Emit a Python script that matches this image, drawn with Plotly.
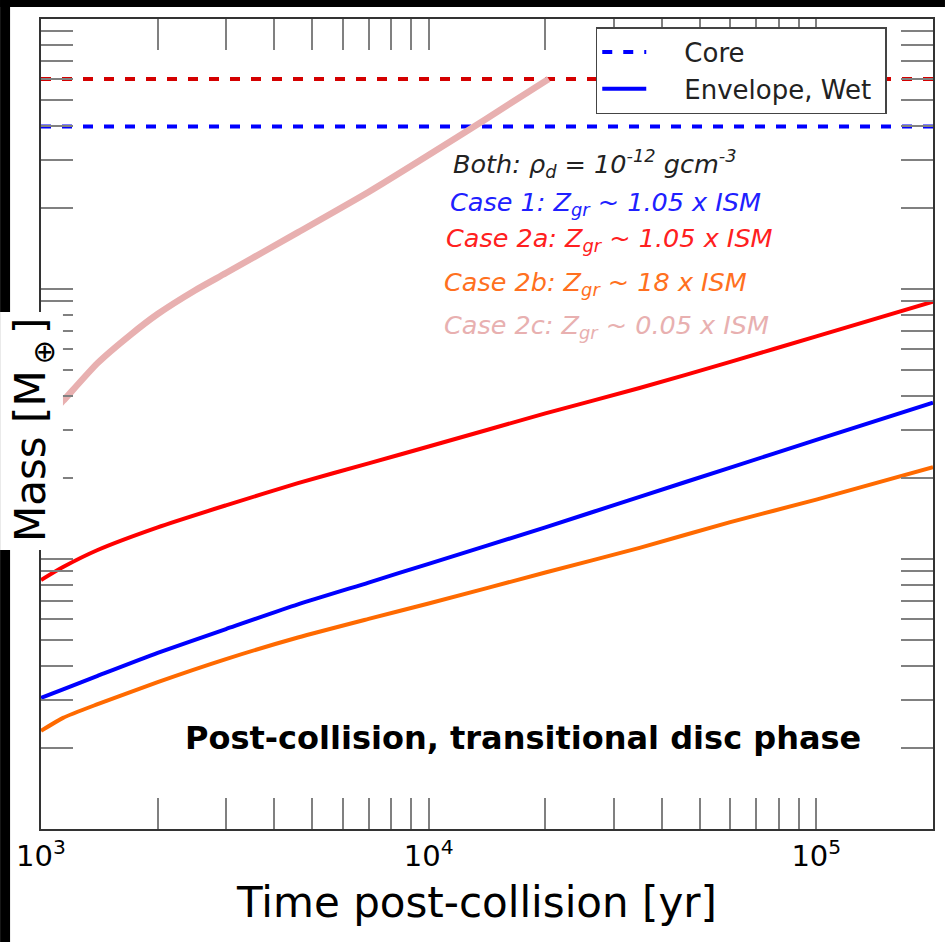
import numpy as np
import plotly.graph_objects as go

# ---------------- data ----------------
time_yr = [1000, 1140, 1400, 2000, 3000, 4600, 7000, 10000, 20000, 35000, 60000, 100000, 200000]
mass_case1 = [0.0306, 0.0329, 0.0369, 0.0449, 0.0550, 0.0679, 0.0818, 0.0960, 0.131, 0.170, 0.218, 0.276, 0.379]
mass_case2a = [0.0836, 0.0934, 0.108, 0.131, 0.158, 0.191, 0.226, 0.261, 0.346, 0.430, 0.537, 0.668, 0.898]
mass_case2b = [0.0231, 0.0258, 0.0290, 0.0350, 0.0426, 0.0512, 0.0600, 0.0684, 0.0891, 0.110, 0.137, 0.166, 0.219]
time_case2c = [1000, 1140, 1400, 1700, 2000, 2500, 3000, 4600, 7000, 10000, 14000, 20400]
mass_case2c = [0.3135, 0.385, 0.532, 0.676, 0.808, 0.99, 1.146, 1.62, 2.287, 3.135, 4.248, 6.0]
core_time = [1000, 200000]
core_case1 = [4.0, 4.0]
core_case2 = [6.0, 6.0]

x_major = [1e3, 1e4, 1e5]
x_major_text = ["10<sup>3</sup>", "10<sup>4</sup>", "10<sup>5</sup>"]

# ---------------- layout helpers ----------------
W, H = 947, 942
L, R, T, B = 41, 935, 19, 829


def xp(px):
    return (px - L) / (R - L)


def yp(py):
    return (B - py) / (B - T)


FONT = "DejaVu Sans"
NB = "\u00a0"

fig = go.Figure()

fig.add_trace(go.Scatter(x=core_time, y=core_case1, mode="lines", name=NB * 4 + "Core",
                         line=dict(color="#0000ff", width=4, dash="10px,11px")))
fig.add_trace(go.Scatter(x=core_time, y=core_case2, mode="lines", name="Core 2", showlegend=False,
                         line=dict(color="#d40000", width=4, dash="10px,11px")))
fig.add_trace(go.Scatter(x=time_case2c, y=mass_case2c, mode="lines", showlegend=False,
                         line=dict(color="#e8b0b0", width=6.5, shape="spline", smoothing=0.6)))
fig.add_trace(go.Scatter(x=time_yr, y=mass_case2a, mode="lines", showlegend=False,
                         line=dict(color="#ff0000", width=4, shape="spline", smoothing=0.6)))
fig.add_trace(go.Scatter(x=time_yr, y=mass_case2b, mode="lines", showlegend=False,
                         line=dict(color="#ff6a00", width=4, shape="spline", smoothing=0.6)))
fig.add_trace(go.Scatter(x=time_yr, y=mass_case1, mode="lines",
                         name=NB * 4 + "Envelope, Wet" + NB,
                         line=dict(color="#0000ff", width=4, shape="spline", smoothing=0.6)))

# ticks
x_tickvals = []
x_ticktext = []
for d in [1e3, 1e4, 1e5]:
    for m in range(1, 10):
        v = d * m
        if v > 2e5:
            break
        x_tickvals.append(v)
        x_ticktext.append(x_major_text[x_major.index(d)] if m == 1 else "")
x_tickvals.append(2e5)
x_ticktext.append("")

y_tickvals = [d * m for d in [0.01, 0.1, 1] for m in range(1, 10)] + [10]

fig.update_xaxes(type="log", range=[3, np.log10(2e5)], tickmode="array",
                 tickvals=x_tickvals, ticktext=x_ticktext, ticks="inside", ticklen=31,
                 tickwidth=1.5, tickcolor="#808080", showline=True, linecolor="#333",
                 linewidth=2, mirror="ticks", showgrid=False, zeroline=False,
                 tickfont=dict(family=FONT, size=29, color="black"))
fig.update_yaxes(type="log", range=[-2, 1], tickmode="array", tickvals=y_tickvals,
                 showticklabels=False, ticks="inside", ticklen=32, tickwidth=1.5,
                 tickcolor="#808080", showline=True, linecolor="#333", linewidth=2,
                 mirror="ticks", showgrid=False, zeroline=False)

shapes = [
    dict(type="rect", xref="paper", yref="paper", x0=xp(0), x1=xp(W), y0=yp(0), y1=yp(7),
         fillcolor="black", line=dict(width=0), layer="above"),
    dict(type="rect", xref="paper", yref="paper", x0=xp(0), x1=xp(10), y0=yp(0), y1=yp(H),
         fillcolor="black", line=dict(width=0), layer="above"),
    dict(type="rect", xref="paper", yref="paper", x0=xp(0), x1=xp(63), y0=yp(312), y1=yp(550),
         fillcolor="white", line=dict(width=0), layer="above"),
]

annotations = [
    dict(text="Mass [M<sub>\u2009⊕\u2009</sub>]", x=xp(33), y=yp(430), xref="paper", yref="paper",
         textangle=-90, showarrow=False, font=dict(family=FONT, size=42, color="black"),
         xanchor="center", yanchor="middle"),
    dict(text="Time post-collision [yr]", x=xp(477), y=yp(902), xref="paper", yref="paper",
         showarrow=False, font=dict(family=FONT, size=42, color="black"),
         xanchor="center", yanchor="middle"),
    dict(text="<b>Post-collision, transitional disc phase</b>", x=xp(524), y=yp(738),
         xref="paper", yref="paper", showarrow=False,
         font=dict(family=FONT, size=32, color="black"), xanchor="center", yanchor="middle"),
    dict(text="<i>Both: ρ<sub>d</sub> = 10<sup>-12</sup> gcm<sup>-3</sup></i>", x=xp(452), y=yp(163),
         xref="paper", yref="paper", showarrow=False,
         font=dict(family=FONT, size=25.5, color="#222"), xanchor="left", yanchor="middle"),
    dict(text="<i>Case 1: Z<sub>gr</sub> ~ 1.05 x ISM</i>", x=xp(449), y=yp(203),
         xref="paper", yref="paper", showarrow=False,
         font=dict(family=FONT, size=25.5, color="#2020ff"), xanchor="left", yanchor="middle"),
    dict(text="<i>Case 2a: Z<sub>gr</sub> ~ 1.05 x ISM</i>", x=xp(445), y=yp(240),
         xref="paper", yref="paper", showarrow=False,
         font=dict(family=FONT, size=25.5, color="#ff2020"), xanchor="left", yanchor="middle"),
    dict(text="<i>Case 2b: Z<sub>gr</sub> ~ 18 x ISM</i>", x=xp(443), y=yp(283),
         xref="paper", yref="paper", showarrow=False,
         font=dict(family=FONT, size=25.5, color="#ff7020"), xanchor="left", yanchor="middle"),
    dict(text="<i>Case 2c: Z<sub>gr</sub> ~ 0.05 x ISM</i>", x=xp(443), y=yp(326),
         xref="paper", yref="paper", showarrow=False,
         font=dict(family=FONT, size=25.5, color="#e8b0b0"), xanchor="left", yanchor="middle"),
]

fig.update_layout(
    width=W, height=H,
    margin=dict(l=L, r=W - R, t=T, b=H - B),
    paper_bgcolor="white", plot_bgcolor="white",
    showlegend=True,
    legend=dict(x=xp(597), y=yp(27), xanchor="left", yanchor="top",
                bgcolor="white", bordercolor="#444", borderwidth=1.5,
                font=dict(family=FONT, size=26, color="#222"), itemwidth=44,
                traceorder="normal"),
    shapes=shapes,
    annotations=annotations,
    font=dict(family=FONT),
)

fig.write_html("out.html", config={"displayModeBar": False},
               post_script="document.body.style.margin='0';document.body.style.overflow='hidden';")
